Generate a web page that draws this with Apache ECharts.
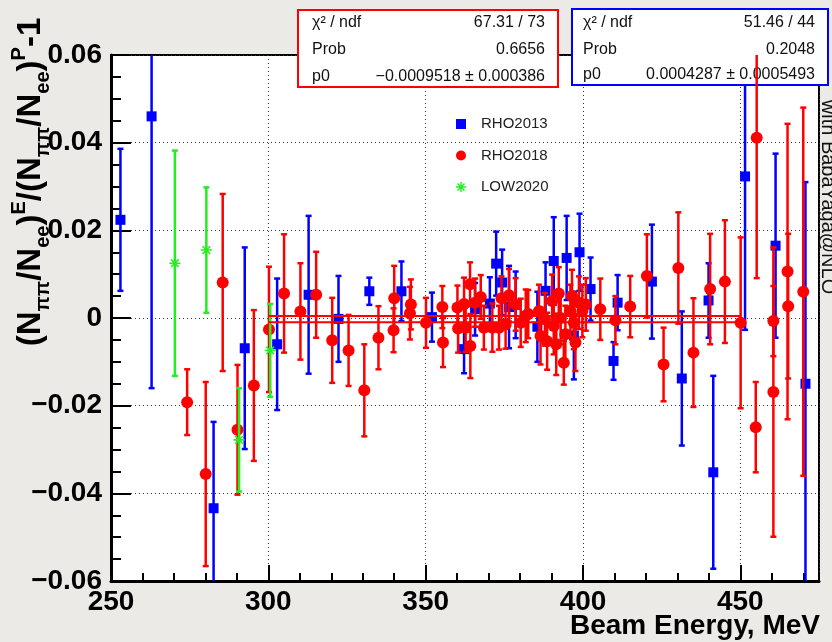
<!DOCTYPE html>
<html>
<head>
<meta charset="utf-8">
<script src="https://cdn.jsdelivr.net/npm/echarts@6/dist/echarts.min.js"></script>
<style>
  html, body { margin: 0; padding: 0; background: #eceae7; }
  #chart { width: 832px; height: 642px; }
</style>
</head>
<body>
<div id="chart"></div>
<script>
// Relative difference of the pi-pi / ee event ratio (experiment vs prediction)
// per beam energy point, for three data-taking seasons.

// RHO2013: beam energy (MeV), deviation, error
const rho2013Energy = [253.0, 262.9, 282.6, 292.5, 302.8, 312.8, 322.3, 332.1, 342.3, 352.0,
  362.2, 365.7, 370.4, 372.4, 374.3, 376.5, 378.6, 385.5, 388.1, 390.7,
  394.8, 397.1, 398.9, 402.4, 409.7, 411.0, 421.9, 431.4, 439.9, 441.4,
  451.5, 461.2, 470.7];
const rho2013Value = [0.0224, 0.0460, -0.0434, -0.0069, -0.0060, 0.0053, -0.0002, 0.0061, 0.0061, 0.0002,
  -0.0071, 0.0020, 0.0033, 0.0124, 0.0081, 0.0025, 0.0030, -0.0020, 0.0062, 0.0130,
  0.0137, -0.0040, 0.0150, 0.0066, -0.0098, 0.0035, 0.0083, -0.0138, 0.0040, -0.0352,
  0.0323, 0.0165, -0.0150];
const rho2013Error = [0.0162, 0.0620, 0.0197, 0.0230, 0.0150, 0.0180, 0.0098, 0.0031, 0.0068, 0.0056,
  0.0055, 0.0060, 0.0060, 0.0073, 0.0075, 0.0094, 0.0076, 0.0080, 0.0065, 0.0100,
  0.0096, 0.0100, 0.0088, 0.0072, 0.0043, 0.0063, 0.0130, 0.0153, 0.0085, 0.0220,
  0.0350, 0.0210, 0.0460];

// RHO2018: beam energy (MeV), deviation, error
const rho2018Energy = [274.2, 280.1, 285.5, 290.2, 295.4, 300.2, 305.0, 310.2, 315.2, 320.3,
  325.5, 330.5, 335.0, 339.8, 340.0, 345.0, 345.3, 350.1, 355.3, 355.5,
  360.1, 360.3, 362.2, 362.7, 364.1, 364.2, 365.7, 367.5, 368.5, 371.2,
  373.3, 374.1, 375.4, 376.5, 378.6, 380.2, 381.8, 382.6, 386.0, 386.5,
  387.9, 388.6, 390.2, 390.7, 391.5, 392.3, 392.9, 393.9, 394.4, 396.0,
  396.5, 397.1, 397.6, 398.7, 399.8, 400.9, 405.5, 410.3, 415.0, 420.3,
  425.6, 430.3, 435.1, 440.4, 445.1, 450.1, 454.9, 455.2, 460.5, 460.5,
  465.0, 465.2, 470.0];
const rho2018Value = [-0.0192, -0.0356, 0.0081, -0.0255, -0.0154, -0.0026, 0.0056, 0.0015, 0.0053, -0.0051,
  -0.0074, -0.0165, -0.0045, -0.0028, 0.0045, 0.0011, 0.0031, -0.0011, 0.0025, -0.0056,
  0.0024, -0.0024, 0.0032, -0.0022, 0.0077, -0.0064, 0.0035, 0.0048, -0.0022, -0.0022,
  -0.0022, 0.0045, -0.0015, 0.0052, 0.0031, -0.0011, 0.0005, 0.0009, 0.0016, -0.0041,
  -0.0003, -0.0053, 0.0039, -0.0018, -0.0060, 0.0056, 0.0000, -0.0102, -0.0037, 0.0016,
  0.0050, -0.0011, -0.0056, 0.0035, 0.0016, 0.0031, 0.0020, -0.0005, 0.0026, 0.0096,
  -0.0106, 0.0114, -0.0079, 0.0066, 0.0083, -0.0011, -0.0249, 0.0411, -0.0007, -0.0169,
  0.0106, 0.0027, 0.0060];
const rho2018Error = [0.0075, 0.0210, 0.0202, 0.0148, 0.0172, 0.0143, 0.0135, 0.0110, 0.0098, 0.0097,
  0.0081, 0.0105, 0.0072, 0.0050, 0.0074, 0.0060, 0.0057, 0.0057, 0.0048, 0.0056,
  0.0050, 0.0055, 0.0060, 0.0055, 0.0050, 0.0073, 0.0055, 0.0050, 0.0050, 0.0055,
  0.0050, 0.0050, 0.0055, 0.0060, 0.0060, 0.0055, 0.0060, 0.0055, 0.0060, 0.0065,
  0.0060, 0.0065, 0.0060, 0.0065, 0.0070, 0.0060, 0.0060, 0.0050, 0.0065, 0.0060,
  0.0060, 0.0060, 0.0065, 0.0060, 0.0060, 0.0060, 0.0070, 0.0055, 0.0070, 0.0095,
  0.0084, 0.0127, 0.0124, 0.0126, 0.0140, 0.0195, 0.0103, 0.0320, 0.0080, 0.0330,
  0.0337, 0.0165, 0.0420];

// LOW2020: beam energy (MeV), deviation, error
const low2020Energy = [270.3, 280.3, 290.7, 300.6];
const low2020Value = [0.0125, 0.0155, -0.0278, -0.0074];
const low2020Error = [0.0257, 0.0143, 0.0118, 0.0106];

// Constant fits (p0) and their fit range
const fitRange = [300, 450];
const fitRho2018 = -0.0009518;
const fitRho2013 = 0.0004287;

// Fit statistics boxes
const statsRho2018 = [['χ² / ndf', '67.31 / 73'], ['Prob', '0.6656'], ['p0', '−0.0009518 ± 0.000386']];
const statsRho2013 = [['χ² / ndf', '51.46 / 44'], ['Prob', '0.2048'], ['p0', '0.0004287 ± 0.0005493']];

const seriesNames = ['RHO2013', 'RHO2018', 'LOW2020'];
const xTitle = 'Beam Energy, MeV';
const sideNote = 'with BabaYaga@NLO';

const FONT = '"Liberation Sans", Arial, Helvetica, sans-serif';
const BLUE = '#0000ff', RED = '#ff0000', GREEN = '#22ee22';
const SQUARE = 'path://M0,0 L10,0 L10,10 L0,10 Z';
const STAR = 'path://M4.3,0 L5.7,0 L5.7,10 L4.3,10 Z M0,4.3 L10,4.3 L10,5.7 L0,5.7 Z ' +
             'M2,1 L9,8 L8,9 L1,2 Z M9,2 L2,9 L1,8 L8,1 Z';

function rows(e, v, s) { return e.map((x, i) => [x, v[i], s[i]]); }
const rho2013Rows = rows(rho2013Energy, rho2013Value, rho2013Error);
const rho2018Rows = rows(rho2018Energy, rho2018Value, rho2018Error);
const low2020Rows = rows(low2020Energy, low2020Value, low2020Error);

function errorBars(color) {
  return function (params, api) {
    const x = api.value(0), y = api.value(1), e = api.value(2);
    const top = api.coord([x, y + e]);
    const bot = api.coord([x, y - e]);
    const c = 3;
    const style = { stroke: color, lineWidth: 2.5 };
    return {
      type: 'group',
      children: [
        { type: 'line', shape: { x1: top[0], y1: top[1], x2: bot[0], y2: bot[1] }, style: style },
        { type: 'line', shape: { x1: top[0] - c, y1: top[1], x2: top[0] + c, y2: top[1] }, style: style },
        { type: 'line', shape: { x1: bot[0] - c, y1: bot[1], x2: bot[0] + c, y2: bot[1] }, style: style }
      ]
    };
  };
}

function errSeries(data, color, z) {
  return { type: 'custom', renderItem: errorBars(color), data: data, clip: true, silent: true,
           encode: { x: 0, y: 1 }, z: z };
}
function markSeries(name, data, symbol, size, color, z) {
  return { name: name, type: 'scatter', data: data.map(r => [r[0], r[1]]), symbol: symbol,
           symbolSize: size, itemStyle: { color: color, opacity: 1 }, clip: true, silent: true, z: z };
}
function fitSeries(p0) {
  return { type: 'line', data: [[fitRange[0], p0], [fitRange[1], p0]], symbol: 'none', silent: true,
           lineStyle: { color: RED, width: 2 }, z: 4 };
}

function statBox(x, y, w, h, color, stats, tx, tr, rowsY) {
  const els = [{ type: 'rect', shape: { x: x, y: y, width: w, height: h },
                 style: { fill: '#fff', stroke: color, lineWidth: 2 }, z: 1.5 }];
  stats.forEach((s, i) => {
    els.push({ type: 'text', x: tx, y: rowsY[i], z: 1.6,
      style: { text: s[0], fontSize: 16, fontFamily: FONT, fill: '#111',
               align: 'left', textAlign: 'left', verticalAlign: 'middle', textVerticalAlign: 'middle' } });
    els.push({ type: 'text', x: tr, y: rowsY[i], z: 1.6,
      style: { text: s[1], fontSize: 16, fontFamily: FONT, fill: '#111',
               align: 'right', textAlign: 'right', verticalAlign: 'middle', textVerticalAlign: 'middle' } });
  });
  return els;
}

function yLabel(v) {
  const r = Math.round(v * 100) / 100;
  if (r === 0) return '0';
  return (r < 0 ? '\u2212' : '') + Math.abs(r).toFixed(2);
}

const labelStyle = { fontSize: 28, fontWeight: 'bold', fontFamily: FONT, color: '#000' };
const gridLine = { show: true, lineStyle: { color: '#333', type: [1, 3], width: 1 } };

const chart = echarts.init(document.getElementById('chart'), null, { renderer: 'canvas' });
chart.setOption({
  animation: false,
  backgroundColor: '#eceae7',
  grid: { left: 111, right: 13, top: 55, bottom: 61, show: true, backgroundColor: '#fff',
          borderColor: '#000', borderWidth: 2 },
  xAxis: [
    { type: 'value', min: 250, max: 475, interval: 50,
      axisLine: { show: true, onZero: false, lineStyle: { color: '#000', width: 3 } },
      axisTick: { inside: true, length: 16, lineStyle: { color: '#000', width: 2 } },
      splitLine: gridLine,
      axisLabel: Object.assign({ margin: 7, showMaxLabel: false }, labelStyle) },
    // minor ticks every 10 MeV along the bottom edge
    { type: 'value', min: 250, max: 475, interval: 10, position: 'bottom',
      axisLine: { show: false, onZero: false },
      axisTick: { inside: true, length: 8, lineStyle: { color: '#000', width: 2 } },
      splitLine: { show: false }, axisLabel: { show: false } }
  ],
  yAxis: {
    type: 'value', min: -0.06, max: 0.06, interval: 0.02,
    axisLine: { show: true, onZero: false, lineStyle: { color: '#000', width: 3 } },
    axisTick: { inside: true, length: 20, lineStyle: { color: '#000', width: 2 } },
    minorTick: { show: true, splitNumber: 4, length: 10, lineStyle: { color: '#000', width: 2 } },
    splitLine: gridLine,
    axisLabel: Object.assign({ margin: 9, formatter: yLabel }, labelStyle)
  },
  legend: {
    orient: 'vertical', left: 456, top: 116, padding: 0, itemWidth: 30, itemHeight: 10, itemGap: 15.5,
    data: seriesNames, selectedMode: false,
    textStyle: { fontSize: 15, fontFamily: FONT, color: '#222', lineHeight: 16 }
  },
  series: [
    errSeries(rho2013Rows, BLUE, 1),
    markSeries(seriesNames[0], rho2013Rows, SQUARE, 10, BLUE, 1),
    errSeries(rho2018Rows, RED, 2),
    markSeries(seriesNames[1], rho2018Rows, 'circle', 12, RED, 2),
    errSeries(low2020Rows, GREEN, 3),
    markSeries(seriesNames[2], low2020Rows, STAR, 11, GREEN, 3),
    fitSeries(fitRho2013),
    fitSeries(fitRho2018)
  ],
  graphic: [].concat(
    statBox(298, 10, 260, 77, RED, statsRho2018, 312, 545, [23, 50, 77]),
    statBox(572, 9, 256, 76, BLUE, statsRho2013, 583, 815, [23, 50, 75]),
    [
      { type: 'text', x: 31, y: 182, rotation: Math.PI / 2, z: 5,
        style: {
          text: '{m|(N}{sb|ππ}{m|/N}{sb|ee}{m|)}{sp|E}{m|/(N}{sb|ππ}{m|/N}{sb|ee}{m|)}{sp|P}{m|-1}',
          align: 'center', textAlign: 'center', verticalAlign: 'middle', textVerticalAlign: 'middle',
          fill: '#000',
          rich: {
            m: { fontSize: 33, fontWeight: 'bold', fontFamily: FONT, lineHeight: 44, verticalAlign: 'middle', fill: '#000' },
            sb: { fontSize: 20, fontWeight: 'bold', fontFamily: FONT, lineHeight: 20, verticalAlign: 'bottom', fill: '#000' },
            sp: { fontSize: 20, fontWeight: 'bold', fontFamily: FONT, lineHeight: 20, verticalAlign: 'top', fill: '#000' }
          }
        } },
      { type: 'text', x: 820, y: 626, z: 5,
        style: { text: xTitle, fontSize: 28, fontWeight: 'bold', fontFamily: FONT, fill: '#000',
                 align: 'right', textAlign: 'right', verticalAlign: 'middle', textVerticalAlign: 'middle' } },
      { type: 'text', x: 828, y: 197, rotation: -Math.PI / 2, z: 5,
        style: { text: sideNote, fontSize: 20, fontFamily: FONT, fill: '#111',
                 align: 'center', textAlign: 'center', verticalAlign: 'middle', textVerticalAlign: 'middle' } }
    ]
  )
});
</script>
</body>
</html>
